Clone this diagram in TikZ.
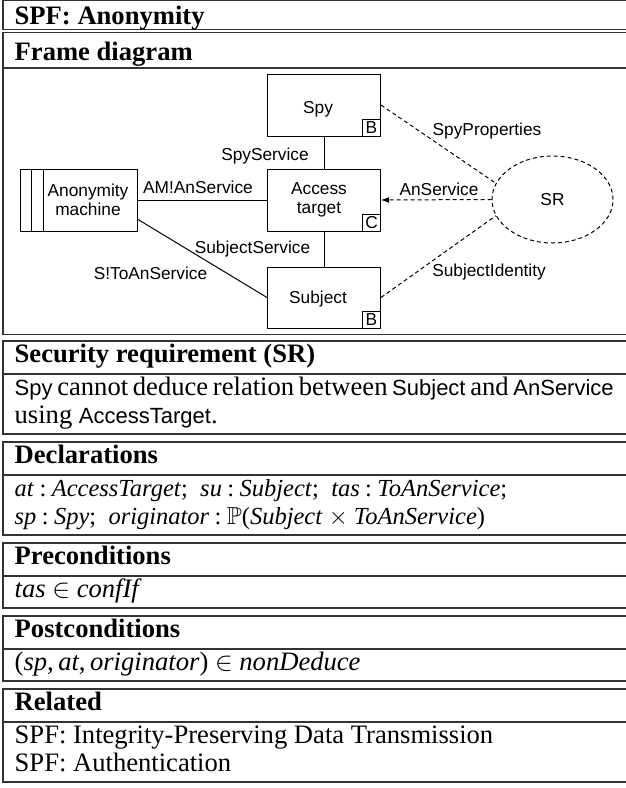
\documentclass[tikz,border=0pt]{standalone}
\usepackage{fix-cm}
\usepackage{amssymb}
\usepackage{fontspec}
\setmainfont{Liberation Serif}
\setsansfont{Liberation Sans}
\usetikzlibrary{shapes.geometric,arrows.meta,calc}
\newcommand\dfont{\sffamily\fontsize{17.3}{19}\selectfont}
\newcommand\bfont{\rmfamily\fontsize{26.6}{28}\selectfont}
\newcommand\dcfont{\rmfamily\fontsize{24.5}{28}\selectfont}
\newcommand\bsf[1]{{\sffamily\fontsize{22}{28}\selectfont #1}}
\newcommand\zcol{\hspace{0.22em}:\hspace{0.22em}}
\begin{document}
\begin{tikzpicture}[x=1pt,y=-1pt,
  frame/.style={draw=black!80,line width=1.4pt},
  hdr/.style={anchor=base west,inner sep=0pt,font=\bfont\bfseries},
  bodytxt/.style={anchor=base west,inner sep=0pt,font=\bfont},
  decltxt/.style={anchor=base west,inner sep=0pt,font=\dcfont},
  dbox/.style={draw,line width=1pt,minimum width=113pt,minimum height=62pt,inner sep=0pt},
  markbox/.style={draw,line width=1pt,minimum width=18pt,minimum height=17pt,inner sep=0pt,anchor=south east,font=\dfont},
  dtxt/.style={inner sep=0pt,anchor=base,font=\dfont},
  dmulti/.style={inner sep=0pt,anchor=center,font=\dfont,align=center},
  conn/.style={line width=1pt},
  dconn/.style={line width=1pt,dash pattern=on 4pt off 3pt},
]
\useasboundingbox (0,0) rectangle (626,788);

% ---- table frames ----
\draw[frame] (3,0.7) rectangle (632,29.5);
\node[hdr] (title) at (14.5,24.5) {SPF: Anonymity};

\draw[frame] (3,32.5) rectangle (632,334.5);
\draw[frame] (3,68) -- (632,68);
\node[hdr] (fdh) at (14.5,60) {Frame diagram};

\draw[frame] (3,341) rectangle (632,434);
\draw[frame] (3,374) -- (632,374);
\node[hdr] (srh) at (14.5,362) {Security requirement (SR)};
\node[bodytxt] (sr1) at (14.5,395) {\makebox[599pt][s]{\bsf{Spy} cannot deduce relation between \bsf{Subject} and \bsf{AnService}}};
\node[bodytxt] (sr2) at (14.5,423) {using \bsf{AccessTarget}.};

\draw[frame] (3,442) rectangle (632,535);
\draw[frame] (3,475) -- (632,475);
\node[hdr] (dch) at (14.5,463) {Declarations};
\node[decltxt] (dc1) at (14.5,496) {\textit{at}\zcol\textit{AccessTarget};\enspace\textit{su}\zcol\textit{Subject};\enspace\textit{tas}\zcol\textit{ToAnService};};
\node[decltxt] (dc2) at (14.5,524) {\textit{sp}\zcol\textit{Spy};\enspace\textit{originator}\zcol$\mathbb{P}$(\textit{Subject}\hspace{0.25em}$\times$\hspace{0.25em}\textit{ToAnService})};

\draw[frame] (3,543) rectangle (632,608);
\draw[frame] (3,576) -- (632,576);
\node[hdr] (prh) at (14.5,564) {Preconditions};
\node[bodytxt] (pr1) at (14.5,597) {\textit{tas} $\in$ \textit{confIf}};

\draw[frame] (3,616) rectangle (632,681);
\draw[frame] (3,649) -- (632,649);
\node[hdr] (poh) at (14.5,637) {Postconditions};
\node[bodytxt] (po1) at (14.5,670) {(\textit{sp},\,\textit{at},\,\textit{originator}) $\in$ \textit{nonDeduce}};

\draw[frame] (3,689) rectangle (632,782);
\draw[frame] (3,722) -- (632,722);
\node[hdr] (reh) at (14.5,710) {Related};
\node[bodytxt] (re1) at (14.5,743) {SPF: Integrity-Preserving Data Transmission};
\node[bodytxt] (re2) at (14.5,771) {SPF: Authentication};

% ---- frame diagram ----
\node[dbox] (spy) at (324,105) {};
\node[dtxt] (spyT) at (318,113.5) {Spy};
\node[markbox] (spyB) at (spy.south east) {B};

\node[dbox] (acc) at (324,200) {};
\node[dmulti] (accT) at (319,199.5) {Access\\target};
\node[markbox] (accC) at (acc.south east) {C};

\node[dbox,minimum height=61pt] (subj) at (324,297.5) {};
\node[dtxt] (subjT) at (318,303) {Subject};
\node[markbox] (subjB) at (subj.south east) {B};

\node[dbox,minimum width=117pt] (anon) at (78.5,200) {};
\draw[conn] ($(anon.north west)+(12,0)$) -- ($(anon.south west)+(12,0)$);
\draw[conn] ($(anon.north west)+(24,0)$) -- ($(anon.south west)+(24,0)$);
\node[dmulti] (anonT) at (88,199.5) {Anonymity\\machine};

\node[draw,ellipse,dconn,minimum width=121pt,minimum height=87pt,inner sep=0pt,font=\dfont] (sr) at (552.5,199.5) {SR};

\draw[conn] (spy) -- (acc);
\draw[conn] (acc) -- (subj);
\draw[conn] (anon) -- (acc);
\draw[conn] (anon.-18.4) -- (subj.west);
\draw[dconn] (spy.east) -- (sr.164);
\draw[dconn] (subj.east) -- (sr.196);
\draw[dconn,-{Latex[length=8pt,width=6pt]}] (sr.west) -- (acc.east);

\node[dtxt] (lSpyS) at (265,160) {SpyService};
\node[dtxt] (lAM) at (198,193) {AM!AnService};
\node[dtxt] (lAn) at (439,195) {AnService};
\node[dtxt] (lSubS) at (252.5,253) {SubjectService};
\node[dtxt] (lSTo) at (150.5,279) {S!ToAnService};
\node[dtxt] (lSpyP) at (487,135) {SpyProperties};
\node[dtxt] (lSubI) at (489,276) {SubjectIdentity};
\end{tikzpicture}
\end{document}
